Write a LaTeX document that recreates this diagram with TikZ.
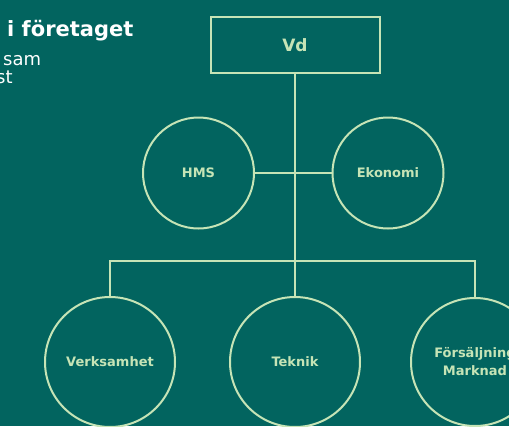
\documentclass[tikz,border=0pt]{standalone}
\usepackage{fontspec}
\setmainfont{DejaVu Sans}
\usepackage{tikz}
\usetikzlibrary{calc,positioning,shapes}
\definecolor{teal}{HTML}{02645F}
\definecolor{leaf}{HTML}{C6E4B6}
\tikzstyle{unit}  = [circle, draw=leaf, line width=2pt, minimum size=130pt, inner sep=0pt, text=leaf, font=\fontsize{13}{18}\selectfont\bfseries, align=center]
\tikzstyle{link}  = [draw=leaf, line width=2pt]

\begin{document}
\begin{tikzpicture}[x=1pt, y=-1pt,
			staff/.style={unit, minimum size=111pt},
			head/.style={rectangle, draw=leaf, line width=2pt, minimum width=169pt, minimum height=56pt, text=leaf, font=\fontsize{17}{20}\selectfont\bfseries},
			title/.style={anchor=base west, inner sep=0pt, text=white}]

		\useasboundingbox (0,0) rectangle (509,426);
		\fill[teal] (0,0) rectangle (509,426);
		\clip (0,0) rectangle (509,426);

		% rubrik
		\node[title, font=\fontsize{21}{24}\selectfont\bfseries] (rubrik) at (7,36) {i företaget};
		\node[title, font=\fontsize{18}{20}\selectfont] (rad1) at (3,65) {sam};
		\node[title, font=\fontsize{18}{20}\selectfont] (rad2) at (-4,83) {st};

		% organisation
		\node[head] (vd) at (295,45) {Vd};
		\node[staff] (hms) at (198.5,173) {HMS};
		\node[staff] (eko) at (388,173) {Ekonomi};
		\node[unit] (verk) at (110,362) {Verksamhet};
		\node[unit] (tek) at (295,362) {Teknik};
		\node[unit, minimum size=128pt] (fors) at (475,362) {Försäljning\\Marknad};

		\coordinate (bar) at (295,261);

		\draw[link] (vd.south) -- (bar);
		\draw[link] (hms.east) -- (eko.west);
		\draw[link] (verk.north) |- (bar) -| (fors.north);
		\draw[link] (bar) -- (tek.north);
	\end{tikzpicture}
\end{document}
